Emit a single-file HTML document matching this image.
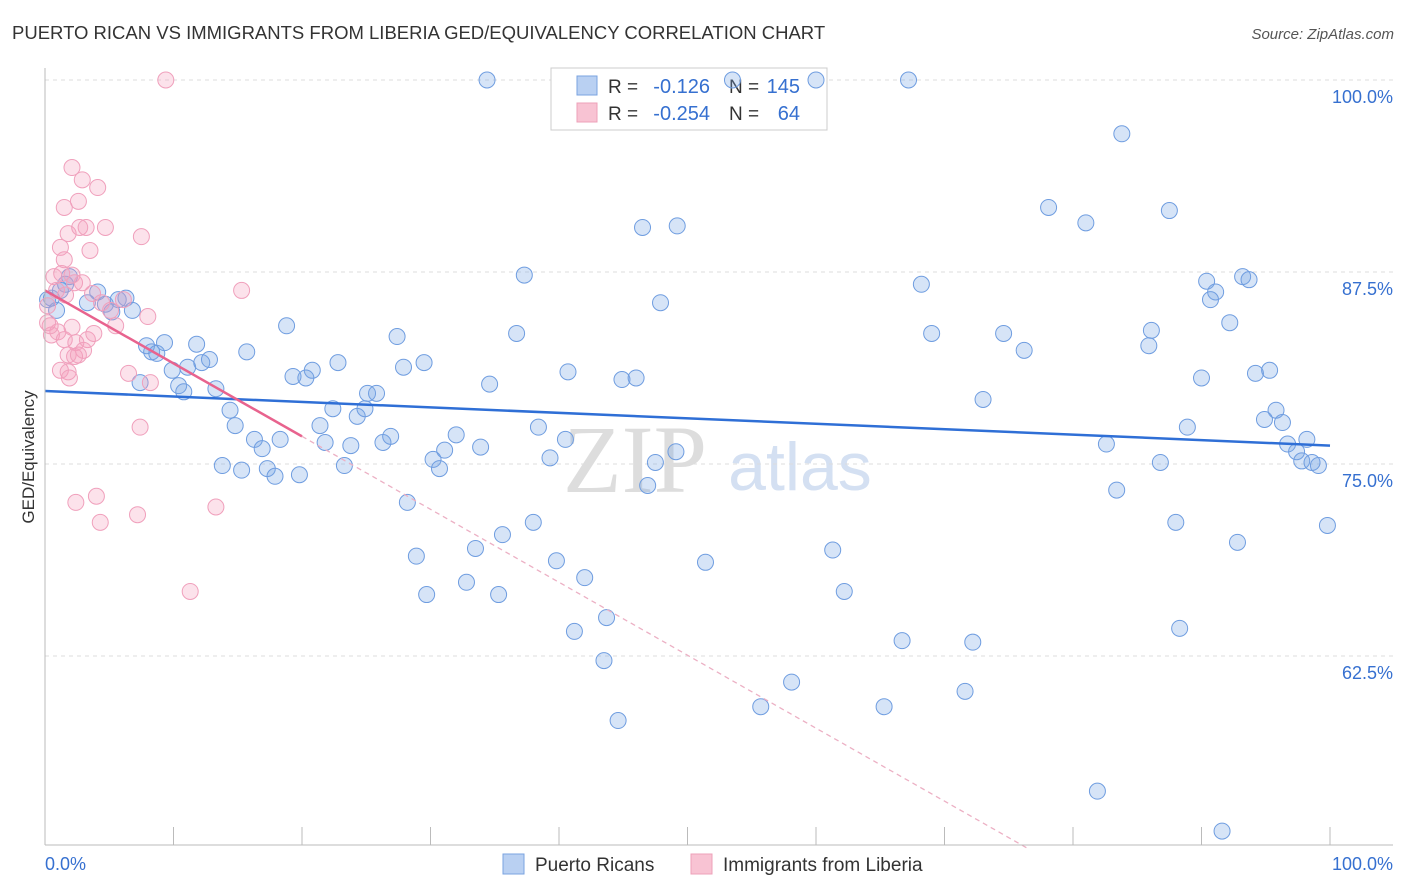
<!DOCTYPE html>
<html><head><meta charset="utf-8">
<style>
body{margin:0;background:#fff;font-family:"Liberation Sans",sans-serif;}
#wrap{position:relative;width:1406px;height:892px;overflow:hidden;}
</style></head>
<body><div id="wrap">
<svg id="svg" width="1406" height="892" xmlns="http://www.w3.org/2000/svg">
<text x="12" y="39" font-size="18.5" fill="#333">PUERTO RICAN VS IMMIGRANTS FROM LIBERIA GED/EQUIVALENCY CORRELATION CHART</text>
<text x="1394" y="39" font-size="15" fill="#555" text-anchor="end" font-style="italic">Source: ZipAtlas.com</text>
<text x="0" y="0" transform="translate(34,457) rotate(-90)" font-size="17" fill="#333" text-anchor="middle">GED/Equivalency</text>
<text x="635" y="492" font-size="96" fill="#ddd" font-family="Liberation Serif,serif" text-anchor="middle">ZIP</text>
<text x="800" y="490" font-size="68" fill="#d4e0f2" text-anchor="middle">atlas</text>
<g id="grid"></g>
<g>
<rect x="551" y="68" width="276" height="62" fill="#fff" stroke="#ccc"/>
<rect x="577" y="76" width="20" height="19" fill="#b9d0f2" stroke="#7aa3e0"/>
<rect x="577" y="103" width="20" height="19" fill="#f8c3d3" stroke="#eea0b8"/>
<text x="608" y="93" font-size="19" fill="#333">R =</text>
<text x="710" y="93" font-size="20" fill="#3670d0" text-anchor="end">-0.126</text>
<text x="729" y="93" font-size="19" fill="#333">N =</text>
<text x="800" y="93" font-size="20" fill="#3670d0" text-anchor="end">145</text>
<text x="608" y="120" font-size="19" fill="#333">R =</text>
<text x="710" y="120" font-size="20" fill="#3670d0" text-anchor="end">-0.254</text>
<text x="729" y="120" font-size="19" fill="#333">N =</text>
<text x="800" y="120" font-size="20" fill="#3670d0" text-anchor="end">64</text>
</g>
<g id="marks"></g><g id="trends"></g><g id="axes"></g>
<g>
<rect x="503" y="854" width="21" height="20" fill="#b9d0f2" stroke="#7aa3e0"/>
<text x="535" y="871" font-size="19" fill="#333">Puerto Ricans</text>
<rect x="691" y="854" width="21" height="20" fill="#f8c3d3" stroke="#eea0b8"/>
<text x="723" y="871" font-size="19" fill="#333">Immigrants from Liberia</text>
</g>
</svg></div>
<script>
const yTicks=[100,87.5,75,62.5];
const yTickLabels=["100.0%","87.5%","75.0%","62.5%"];
const blueX=[34.4,53.5,60.0,67.2,83.8,78.1,81.0,87.5,46.5,49.2,37.3,68.2,90.4,93.2,93.7,91.1,90.7,47.9,92.2,86.1,85.9,69.0,74.6,76.2,36.7,27.4,18.8,29.5,27.9,22.8,20.8,19.3,20.3,40.7,44.9,46.0,34.6,90.0,94.2,95.3,73.0,95.8,94.9,96.3,88.9,98.2,96.7,97.4,97.8,99.1,98.6,82.6,86.8,83.4,88.0,92.8,99.8,88.3,0.2,0.5,0.9,1.2,1.9,1.6,3.3,4.1,4.7,5.2,5.7,6.3,6.8,7.9,8.3,8.7,9.3,9.9,10.4,10.8,11.1,11.8,12.2,12.8,13.3,14.4,14.8,13.8,15.3,15.7,16.3,16.9,17.3,17.9,18.3,19.8,21.4,21.8,23.3,22.4,24.3,24.9,23.8,25.1,25.8,26.3,26.9,28.2,28.9,29.7,30.2,30.7,31.1,32.0,32.8,33.5,33.9,35.3,35.6,38.0,38.4,39.3,39.8,40.5,42.0,41.2,43.7,43.5,44.6,46.9,47.5,49.1,51.4,55.7,58.1,61.3,62.2,65.3,66.7,71.6,72.2,81.9,91.6,7.4];
const blueY=[100,100,100,100,96.5,91.7,90.7,91.5,90.4,90.5,87.3,86.7,86.9,87.2,87.0,86.2,85.7,85.5,84.2,83.7,82.7,83.5,83.5,82.4,83.5,83.3,84.0,81.6,81.3,81.6,81.1,80.7,80.6,81.0,80.5,80.6,80.2,80.6,80.9,81.1,79.2,78.5,77.9,77.7,77.4,76.6,76.3,75.8,75.2,74.9,75.1,76.3,75.1,73.3,71.2,69.9,71.0,64.3,85.7,85.8,85.0,86.3,87.2,86.7,85.5,86.2,85.4,84.9,85.7,85.8,85.0,82.7,82.3,82.2,82.9,81.1,80.1,79.7,81.3,82.8,81.6,81.8,79.9,78.5,77.5,74.9,74.6,82.3,76.6,76.0,74.7,74.2,76.6,74.3,77.5,76.4,74.9,78.6,78.1,78.6,76.2,79.6,79.6,76.4,76.8,72.5,69.0,66.5,75.3,74.7,75.9,76.9,67.3,69.5,76.1,66.5,70.4,71.2,77.4,75.4,68.7,76.6,67.6,64.1,65.0,62.2,58.3,73.6,75.1,75.8,68.6,59.2,60.8,69.4,66.7,59.2,63.5,60.2,63.4,53.7,51.1,80.3];
const pinkX=[9.4,2.1,2.9,4.1,1.5,2.6,1.8,2.7,3.2,4.7,7.5,1.2,1.5,3.5,0.7,1.3,2.1,0.9,1.6,2.3,2.9,3.7,4.4,5.1,5.5,6.1,8.0,15.3,0.2,0.5,1.0,1.5,2.1,2.4,3.3,3.8,3.0,1.8,2.3,2.6,1.2,1.8,1.9,6.5,8.2,7.4,2.4,4.0,4.3,7.2,13.3,11.3,0.2,0.4];
const pinkY=[100,94.3,93.5,93.0,91.7,92.1,90.0,90.4,90.4,90.4,89.8,89.1,88.3,88.9,87.2,87.4,87.3,86.3,86.0,86.8,86.8,86.1,85.5,85.0,84.0,85.7,84.6,86.3,84.2,83.4,83.6,83.1,83.9,82.9,83.1,83.5,82.4,82.1,82.0,82.1,81.1,81.0,80.6,80.9,80.3,77.4,72.5,72.9,71.2,71.7,72.2,66.7,85.3,84.0];
const blueTrend=[79.75,76.2];
const pinkTrend=[86.3,-0.475];
const NS="http://www.w3.org/2000/svg";
const X=v=>45+v*12.85, Y=v=>80+(100-v)*15.36;
function mk(t,a,p){const e=document.createElementNS(NS,t);for(const k in a)e.setAttribute(k,a[k]);p.appendChild(e);return e;}
const grid=document.getElementById('grid'),marks=document.getElementById('marks'),tr=document.getElementById('trends'),ax=document.getElementById('axes');
yTicks.forEach((t,i)=>{
 const l=mk('line',{x1:45,x2:1393,y1:Y(t),y2:Y(t),stroke:'#ddd','stroke-dasharray':'4,4'},grid);
 
 
 const tx=mk('text',{x:1393,y:Y(t)+23,'font-size':18,fill:'#3670d0','text-anchor':'end'},ax);
 tx.textContent=yTickLabels[i];
 
 
});
mk('line',{x1:45,x2:45,y1:68,y2:845,stroke:'#bbb'},ax);
mk('line',{x1:45,x2:1393,y1:845,y2:845,stroke:'#bbb'},ax);
for(let i=0;i<=10;i++){const t=mk('line',{x1:X(i*10),x2:X(i*10),y1:827,y2:845,stroke:'#bbb'},ax);
 
 }
const xl=mk('text',{x:45,y:870,'font-size':18,fill:'#3670d0'},ax);xl.textContent='0.0%';


const xr=mk('text',{x:1393,y:870,'font-size':18,fill:'#3670d0','text-anchor':'end'},ax);xr.textContent='100.0%';


blueX.forEach((x,i)=>{const c=mk('circle',{cx:X(x),cy:Y(blueY[i]),r:8,fill:'rgba(120,165,230,0.3)',stroke:'#6f9de0','stroke-width':1},marks);
 
 });
pinkX.forEach((x,i)=>{const c=mk('circle',{cx:X(x),cy:Y(pinkY[i]),r:8,fill:'rgba(245,160,190,0.3)',stroke:'#f0a0bc','stroke-width':1},marks);
 
 });
const bl=mk('line',{x1:X(0),y1:Y(blueTrend[0]),x2:X(100),y2:Y(blueTrend[1]),stroke:'#2f6fd6','stroke-width':2.5},tr);


const pf=x=>pinkTrend[0]+pinkTrend[1]*x;
const ps=mk('line',{x1:X(0),y1:Y(pf(0)),x2:X(20),y2:Y(pf(20)),stroke:'#e8638e','stroke-width':2.5},tr);


const pd=mk('line',{x1:X(20),y1:Y(pf(20)),x2:X(76.5),y2:Y(pf(76.5)),stroke:'#ecb0c4','stroke-width':1.3,'stroke-dasharray':'5,4'},tr);


</script></body></html>
